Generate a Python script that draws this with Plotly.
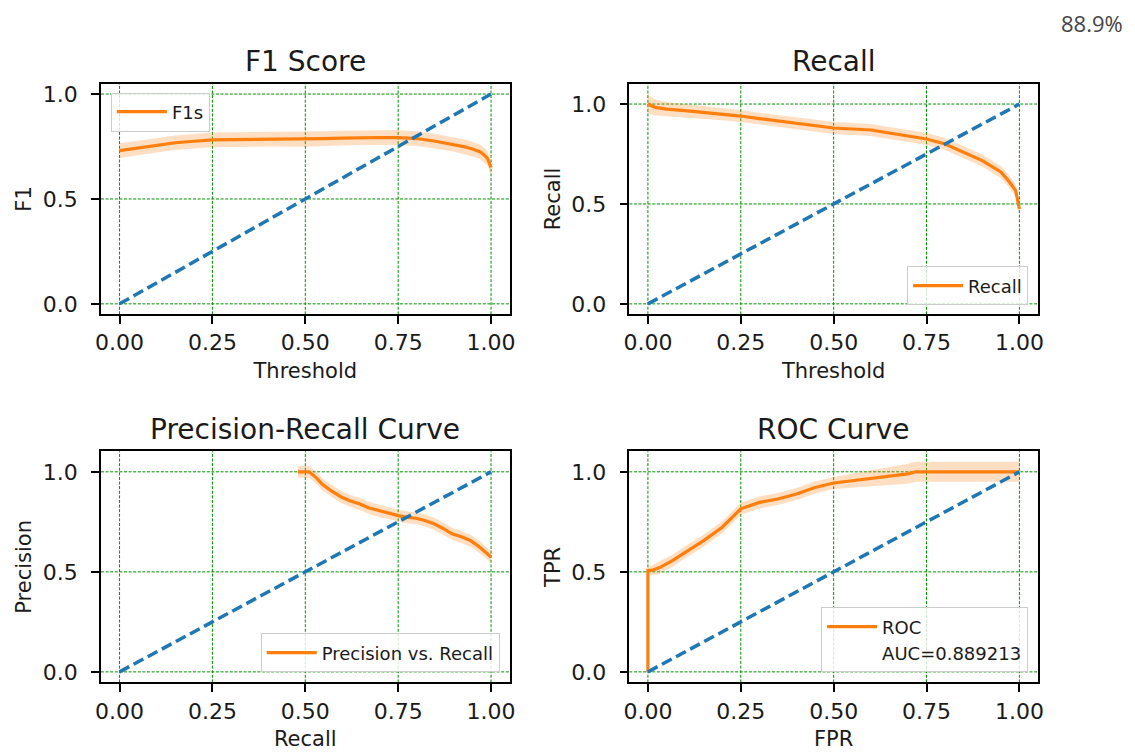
import plotly.graph_objects as go

W, H = 1135, 755
ORANGE = "#ff7f0e"
BLUE = "#1f77b4"
BAND = "rgba(255,127,14,0.25)"
GRID = "#009000"

# ---------------- data ----------------
diag = [0.0, 1.0]

f1_thr = [0.0, 0.02, 0.05, 0.1, 0.15, 0.2, 0.25, 0.3, 0.4, 0.5, 0.55, 0.6, 0.65,
          0.7, 0.75, 0.8, 0.85, 0.9, 0.93, 0.95, 0.97, 0.98, 0.99, 1.0]
f1_val = [0.73, 0.735, 0.745, 0.757, 0.768, 0.775, 0.782, 0.783, 0.785, 0.784, 0.788,
          0.79, 0.792, 0.793, 0.792, 0.788, 0.775, 0.76, 0.748, 0.738, 0.725, 0.712,
          0.695, 0.65]
f1_err = [0.035] * len(f1_thr)

rec_thr = [0.0, 0.005, 0.02, 0.05, 0.1, 0.15, 0.2, 0.25, 0.3, 0.4, 0.5, 0.6, 0.7,
           0.75, 0.8, 0.85, 0.9, 0.95, 0.97, 0.99, 1.0]
rec_val = [1.003, 0.995, 0.983, 0.975, 0.967, 0.958, 0.95, 0.94, 0.927, 0.905, 0.88,
           0.87, 0.84, 0.825, 0.80, 0.758, 0.717, 0.66, 0.617, 0.567, 0.475]
rec_err = [0.05, 0.045, 0.04, 0.035, 0.033, 0.032, 0.031, 0.03, 0.03, 0.03, 0.03,
           0.03, 0.03, 0.03, 0.03, 0.03, 0.03, 0.03, 0.03, 0.03, 0.03]

pr_rec = [0.48, 0.51, 0.53, 0.545, 0.57, 0.598, 0.62, 0.647, 0.67, 0.696, 0.72,
          0.75, 0.775, 0.798, 0.82, 0.846, 0.87, 0.895, 0.92, 0.944, 0.965, 0.98, 1.0]
pr_prec = [1.0, 1.0, 0.97, 0.939, 0.905, 0.873, 0.855, 0.839, 0.82, 0.806, 0.795,
           0.781, 0.772, 0.768, 0.758, 0.74, 0.718, 0.69, 0.675, 0.657, 0.63, 0.607, 0.574]
pr_err = [0.03] * len(pr_rec)

roc_fpr = [0.0, 0.0, 0.01, 0.03, 0.066, 0.1, 0.15, 0.2, 0.24, 0.25, 0.3, 0.35, 0.4,
           0.45, 0.5, 0.55, 0.6, 0.65, 0.7, 0.72, 0.8, 0.9, 1.0]
roc_tpr = [0.0, 0.507, 0.507, 0.52, 0.556, 0.598, 0.656, 0.723, 0.795, 0.815, 0.847,
           0.864, 0.889, 0.922, 0.944, 0.955, 0.968, 0.98, 0.99, 1.0, 1.0, 1.0, 1.0]
roc_err = [0.0, 0.02, 0.025, 0.03, 0.03, 0.03, 0.03, 0.03, 0.03, 0.03, 0.03, 0.03,
           0.03, 0.03, 0.03, 0.035, 0.04, 0.045, 0.05, 0.05, 0.05, 0.05, 0.05]
auc_text = "AUC=0.889213"

x_ticks = [0.0, 0.25, 0.5, 0.75, 1.0]
x_tick_text = ["0.00", "0.25", "0.50", "0.75", "1.00"]
y_ticks = [0.0, 0.5, 1.0]
y_tick_text = ["0.0", "0.5", "1.0"]

# ---------------- layout geometry (pixels) ----------------
panels = [
    # (x0, x1, y0top, y1bottom, yrange)
    (96, 509, 82, 314, [-0.05, 1.05]),
    (630, 1043, 82, 314, [-0.0525, 1.1025]),
    (96, 509, 451.7, 684, [-0.0525, 1.1025]),
    (630, 1043, 451.7, 684, [-0.0525, 1.1025]),
]
titles = ["F1 Score", "Recall", "Precision-Recall Curve", "ROC Curve"]
xlabels = ["Threshold", "Threshold", "Recall", "FPR"]
ylabels = ["F1", "Recall", "Precision", "TPR"]

fig = go.Figure()

FONT = "DejaVu Sans"
TXT = "#1a1a1a"


def band(x, y, e, xa, ya):
    up = [a + b for a, b in zip(y, e)]
    lo = [a - b for a, b in zip(y, e)]
    return go.Scatter(x=list(x) + list(x)[::-1], y=up + lo[::-1], fill="toself",
                      fillcolor=BAND, line=dict(width=0), mode="lines",
                      hoverinfo="skip", showlegend=False, xaxis=xa, yaxis=ya)


def diag_trace(xa, ya):
    return go.Scatter(x=diag, y=diag, mode="lines",
                      line=dict(color=BLUE, width=3.5, dash="11px,5px"),
                      showlegend=False, xaxis=xa, yaxis=ya)


series = [
    (f1_thr, f1_val, f1_err, "F1s", "legend"),
    (rec_thr, rec_val, rec_err, "Recall", "legend2"),
    (pr_rec, pr_prec, pr_err, "Precision vs. Recall", "legend3"),
    (roc_fpr, roc_tpr, roc_err, "ROC", "legend4"),
]

for i, (x, y, e, name, leg) in enumerate(series):
    xa = "x" if i == 0 else f"x{i+1}"
    ya = "y" if i == 0 else f"y{i+1}"
    fig.add_trace(band(x, y, e, xa, ya))
    fig.add_trace(go.Scatter(x=x, y=y, mode="lines", name=name,
                             line=dict(color=ORANGE, width=3.2),
                             legend=leg, xaxis=xa, yaxis=ya))
    if i == 3:
        fig.add_trace(go.Scatter(x=[None], y=[None], mode="lines", name=auc_text,
                                 line=dict(color="rgba(0,0,0,0)", width=0),
                                 legend=leg, xaxis=xa, yaxis=ya))
    fig.add_trace(diag_trace(xa, ya))

layout = dict(width=W, height=H, margin=dict(l=0, r=0, t=0, b=0),
              paper_bgcolor="white", plot_bgcolor="white",
              font=dict(family=FONT, size=21, color=TXT))

annotations = []
shapes = []
for i, (x0, x1, yt, yb, yr) in enumerate(panels):
    sfx = "" if i == 0 else str(i + 1)
    xa = "x" + sfx
    ya = "y" + sfx
    dom_x = [x0 / W, x1 / W]
    dom_y = [1 - yb / H, 1 - yt / H]
    common = dict(showline=True, mirror=True, linecolor="black", linewidth=1.5,
                  ticks="outside", ticklen=8, tickwidth=1.5, tickcolor="black",
                  showgrid=False, zeroline=False,
                  tickfont=dict(family=FONT, size=22, color=TXT))
    layout["xaxis" + sfx] = dict(domain=dom_x, range=[-0.05, 1.05], tickvals=x_ticks,
                                 ticktext=x_tick_text, anchor=ya,
                                 title=dict(text=xlabels[i], standoff=9,
                                            font=dict(family=FONT, size=21, color=TXT)),
                                 **common)
    layout["yaxis" + sfx] = dict(domain=dom_y, range=yr, tickvals=y_ticks,
                                 ticktext=y_tick_text, anchor=xa, ticklabelstandoff=9,
                                 title=dict(text=ylabels[i], standoff=5,
                                            font=dict(family=FONT, size=21, color=TXT)),
                                 **common)
    for tv in x_ticks:
        shapes.append(dict(type="line", xref=xa, yref=ya + " domain", x0=tv, x1=tv,
                           y0=0, y1=1, layer="below",
                           line=dict(color=GRID, width=1, dash="3px,1.6px")))
    for tv in y_ticks:
        shapes.append(dict(type="line", xref=xa + " domain", yref=ya, x0=0, x1=1,
                           y0=tv, y1=tv, layer="below",
                           line=dict(color=GRID, width=1, dash="3px,1.6px")))
    annotations.append(dict(text=titles[i], x=(x0 + x1) / 2 / W, y=1 - (yt - 3.5) / H,
                            xref="paper", yref="paper", xanchor="center", yanchor="bottom",
                            showarrow=False, font=dict(family=FONT, size=28, color=TXT)))

annotations.append(dict(text="88.9%", x=1131 / W, y=1 - 21 / H, xref="paper", yref="paper",
                        xanchor="right", yanchor="middle", showarrow=False,
                        font=dict(family="Open Sans", size=22, color="#444444")))
layout["annotations"] = annotations
layout["shapes"] = shapes

leg_common = dict(bgcolor="rgba(255,255,255,0.8)", bordercolor="#cccccc", borderwidth=1,
                  itemwidth=50, font=dict(family=FONT, size=18, color=TXT))
layout["legend"] = dict(x=106 / W, y=1 - 91 / H, xanchor="left", yanchor="top", **leg_common)
layout["legend2"] = dict(x=1033 / W, y=1 - 305 / H, xanchor="right", yanchor="bottom", **leg_common)
layout["legend3"] = dict(x=499 / W, y=1 - 674 / H, xanchor="right", yanchor="bottom", **leg_common)
layout["legend4"] = dict(x=1033 / W, y=1 - 674 / H, xanchor="right", yanchor="bottom", **leg_common)

fig.update_layout(**layout)

fig.write_html("out.html", config={"displayModeBar": False},
               post_script="document.body.style.margin='0';document.body.style.overflow='hidden';")
